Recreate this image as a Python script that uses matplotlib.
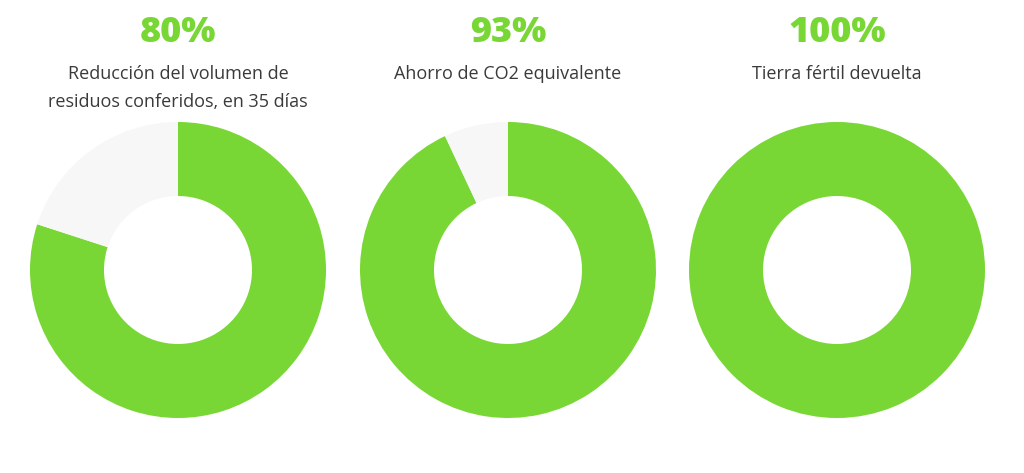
import matplotlib
matplotlib.use("Agg")
import matplotlib.pyplot as plt

percent_labels = ["80%", "93%", "100%"]
descriptions = ["Reducción del volumen de\nresiduos conferidos, en 35 días",
                "Ahorro de CO2 equivalente",
                "Tierra fértil devuelta"]
values = [80, 93, 100]

GREEN = "#78d735"
GREY = "#f7f7f7"
TEXT = "#3a3a3a"

plt.rcParams['font.family'] = ['Open Sans', 'DejaVu Sans']

W, H = 1024, 473
fig = plt.figure(figsize=(W / 100, H / 100), dpi=100)
fig.patch.set_facecolor("white")

centers_x = [178, 508, 837]
cy = 270
r = 148

for cx, v, lab, desc in zip(centers_x, values, percent_labels, descriptions):
    ax = fig.add_axes([(cx - r) / W, (H - cy - r) / H, 2 * r / W, 2 * r / H])
    ax.pie([v, 100 - v], colors=[GREEN, GREY], startangle=90, counterclock=False,
           radius=1, wedgeprops=dict(width=0.5, linewidth=0))
    ax.set_xlim(-1, 1)
    ax.set_ylim(-1, 1)
    ax.set_aspect("equal")
    ax.axis("off")
    fig.text(cx / W, (H - 33) / H, lab, ha="center", va="center",
             fontsize=26, fontweight="heavy", color=GREEN)
    fig.text(cx / W, (H - 65) / H, desc, ha="center", va="top",
             fontsize=13, color=TEXT, linespacing=1.72)

fig.savefig("out.png", dpi=100, facecolor="white")
